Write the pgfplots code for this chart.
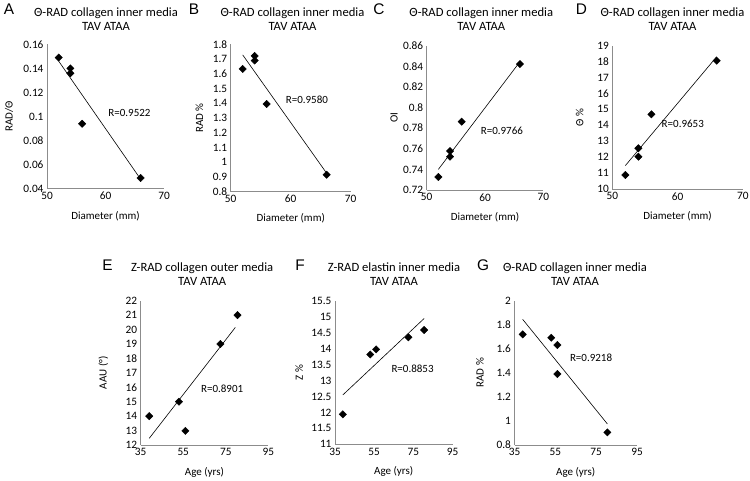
\documentclass[border=0pt]{standalone}
\usepackage{fontspec}
\setmainfont{Carlito}
\newfontfamily\letterfont{Liberation Sans}
\usepackage{pgfplots}
\pgfplotsset{compat=1.18}
\definecolor{axisgray}{HTML}{8C8C8C}

\pgfplotsset{
  panel/.style={
    scale only axis,
    axis lines*=left,
    axis line style={draw=axisgray, line width=0.9pt},
    major tick length=0pt,
    clip=false,
    scaled ticks=false,
    /pgf/number format/assume math mode=true,
    /pgf/number format/fixed,
    /pgf/number format/precision=2,
    tick label style={font=\fontsize{11.3}{12}\selectfont},
    label style={font=\fontsize{11}{12}\selectfont},
    xlabel style={at={(axis description cs:0.5,0)}, anchor=center, yshift=-27pt},
  },
  pts/.style={only marks, mark=square*, mark size=2.6pt,
    mark options={rotate=45, fill=black, draw=black}},
  fit/.style={black, line width=0.6pt, no marks},
}
\newcommand{\rlab}[3]{\node[font=\fontsize{11}{12}\selectfont] at (axis cs:#1,#2) {#3};}
\newcommand{\ttl}[4]{%
  \node[anchor=base, font=\fontsize{12.6}{13}\selectfont] at (#1pt,#2pt) {#4};
  \node[anchor=base, font=\fontsize{12.6}{13}\selectfont] at (#1pt,#3pt) {TAV ATAA};}
\newcommand{\plet}[3]{\node[font=\letterfont\fontsize{15.4}{16}\selectfont] at (#1pt,#2pt) {#3};}

\begin{document}
\begin{tikzpicture}

% A
\begin{axis}[panel, at={(47pt,291.2pt)}, anchor=south west, width=117pt, height=144.5pt,
  xmin=50, xmax=70, ymin=0.04, ymax=0.16,
  xtick={50,60,70}, ytick={0.04,0.06,0.08,0.1,0.12,0.14,0.16},
  xlabel={Diameter (mm)}, ylabel={RAD/Θ},
  ylabel style={at={(axis description cs:-0.325,0.5)}, anchor=center}]
\addplot[pts] coordinates {(52,0.149) (54,0.140) (54,0.136) (56,0.094) (66,0.049)};
\addplot[fit] coordinates {(52,0.146) (66,0.048)};
\rlab{64.1}{0.103}{R=0.9522}
\end{axis}

% B
\begin{axis}[panel, at={(230.7pt,288.3pt)}, anchor=south west, width=120pt, height=147.4pt,
  xmin=50, xmax=70, ymin=0.8, ymax=1.8,
  xtick={50,60,70}, ytick={0.8,0.9,1,1.1,1.2,1.3,1.4,1.5,1.6,1.7,1.8},
  xlabel={Diameter (mm)}, ylabel={RAD \%},
  ylabel style={at={(axis description cs:-0.26,0.5)}, anchor=center}]
\addplot[pts] coordinates {(52,1.633) (54,1.721) (54,1.69) (56,1.395) (66,0.915)};
\addplot[fit] coordinates {(52,1.728) (66,0.925)};
\rlab{62.7}{1.425}{R=0.9580}
\end{axis}

% C
\begin{axis}[panel, at={(426.7pt,290pt)}, anchor=south west, width=116.6pt, height=144.3pt,
  xmin=50, xmax=70, ymin=0.72, ymax=0.86,
  xtick={50,60,70}, ytick={0.72,0.74,0.76,0.78,0.8,0.82,0.84,0.86},
  xlabel={Diameter (mm)}, ylabel={OI},
  ylabel style={at={(axis description cs:-0.28,0.5)}, anchor=center}]
\addplot[pts] coordinates {(52,0.7326) (54,0.7523) (54,0.7578) (56,0.7863) (66,0.8422)};
\addplot[fit] coordinates {(52,0.740) (66,0.8445)};
\rlab{62.9}{0.7775}{R=0.9766}
\end{axis}

% D
\begin{axis}[panel, at={(612.3pt,291pt)}, anchor=south west, width=130.5pt, height=143.3pt,
  xmin=50, xmax=70, ymin=10, ymax=19,
  xtick={50,60,70}, ytick={10,11,...,19},
  xlabel={Diameter (mm)}, ylabel={Θ \%},
  ylabel style={at={(axis description cs:-0.25,0.5)}, anchor=center}]
\addplot[pts] coordinates {(52,10.88) (54,12.03) (54,12.56) (56,14.69) (66,18.06)};
\addplot[fit] coordinates {(52,11.47) (66,18.31)};
\rlab{60.8}{14.08}{R=0.9653}
\end{axis}

% E
\begin{axis}[panel, at={(140.7pt,35pt)}, anchor=south west, width=127.6pt, height=144.3pt,
  xmin=35, xmax=95, ymin=12, ymax=22,
  xtick={35,55,75,95}, ytick={12,13,...,22},
  xlabel={Age (yrs)}, ylabel={AAU (°)},
  ylabel style={at={(axis description cs:-0.293,0.5)}, anchor=center}]
\addplot[pts] coordinates {(39,14.0) (53,15.0) (56,12.98) (72.5,19.0) (80.5,21.0)};
\addplot[fit] coordinates {(39,12.46) (79.5,20.15)};
\rlab{73.3}{15.93}{R=0.8901}
\end{axis}

% F
\begin{axis}[panel, at={(335pt,35.7pt)}, anchor=south west, width=117.5pt, height=143.3pt,
  xmin=35, xmax=95, ymin=11, ymax=15.5,
  xtick={35,55,75,95}, ytick={11,11.5,...,15.5},
  xlabel={Age (yrs)}, ylabel={Z \%},
  ylabel style={at={(axis description cs:-0.306,0.5)}, anchor=center}]
\addplot[pts] coordinates {(39,11.94) (53,13.82) (56,13.98) (72.5,14.36) (80.5,14.59)};
\addplot[fit] coordinates {(39,12.55) (80.5,14.95)};
\rlab{74.6}{13.36}{R=0.8853}
\end{axis}

% G
\begin{axis}[panel, at={(514.5pt,35pt)}, anchor=south west, width=122.5pt, height=144.3pt,
  xmin=35, xmax=95, ymin=0.8, ymax=2,
  xtick={35,55,75,95}, ytick={0.8,1,1.2,1.4,1.6,1.8,2},
  xlabel={Age (yrs)}, ylabel={RAD \%},
  ylabel style={at={(axis description cs:-0.282,0.5)}, anchor=center}]
\addplot[pts] coordinates {(39,1.72) (53,1.692) (56,1.631) (56,1.39) (80.5,0.905)};
\addplot[fit] coordinates {(39,1.845) (80.5,0.975)};
\rlab{72.5}{1.529}{R=0.9218}
\end{axis}

% titles
\ttl{106}{463.3}{449.3}{Θ-RAD collagen inner media}
\ttl{292.5}{463.3}{449.3}{Θ-RAD collagen inner media}
\ttl{481.3}{463.3}{449.3}{Θ-RAD collagen inner media}
\ttl{672.5}{463.3}{449.3}{Θ-RAD collagen inner media}
\ttl{202.2}{208.7}{195}{Z-RAD collagen outer media}
\ttl{394}{208.7}{195}{Z-RAD elastin inner media}
\ttl{575}{208.7}{195}{Θ-RAD collagen inner media}

% panel letters
\plet{9}{470.5}{A}
\plet{194}{470.5}{B}
\plet{379}{470.5}{C}
\plet{581.5}{470.5}{D}
\plet{107.5}{215}{E}
\plet{300}{215}{F}
\plet{483}{215}{G}

\pgfresetboundingbox
\path[use as bounding box] (0pt,0pt) rectangle (750pt,480pt);
\end{tikzpicture}
\end{document}
